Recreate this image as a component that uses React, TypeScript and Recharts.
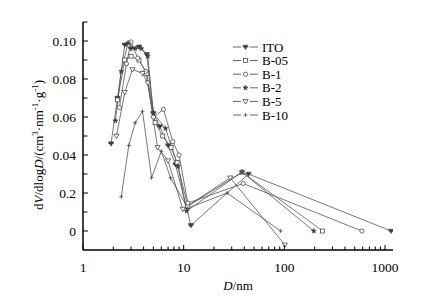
import React from 'react';
import { LineChart, Line, XAxis, YAxis, Customized } from 'recharts';

// ---- data (D in nm, dV/dlogD) ----
const itoD = [1.9, 2.2, 2.6, 3.0, 3.6, 4.3, 5.0, 5.8, 7.0, 8.3, 11.8, 44, 1150];
const itoV = [0.046, 0.070, 0.098, 0.096, 0.097, 0.093, 0.062, 0.055, 0.045, 0.035, 0.003, 0.030, 0];

const b05D = [2.2, 2.6, 3.0, 3.6, 4.3, 5.2, 6.2, 7.5, 8.6, 11, 38, 240];
const b05V = [0.069, 0.090, 0.092, 0.090, 0.083, 0.057, 0.050, 0.044, 0.036, 0.013, 0.031, 0];

const b1D = [2.3, 2.7, 3.0, 3.5, 4.2, 5.0, 6.3, 7.8, 9.0, 11, 39, 590];
const b1V = [0.065, 0.088, 0.0995, 0.091, 0.084, 0.060, 0.064, 0.047, 0.040, 0.0147, 0.025, 0];

const b2D = [2.1, 2.4, 2.8, 3.3, 3.8, 4.4, 5.0, 6.6, 8.8, 10.7, 38, 196];
const b2V = [0.058, 0.084, 0.099, 0.096, 0.096, 0.092, 0.062, 0.054, 0.034, 0.0105, 0.031, 0];

const b5D = [2.15, 2.6, 3.1, 3.9, 4.4, 5.5, 7.0, 9.8, 29, 101];
const b5V = [0.050, 0.073, 0.085, 0.083, 0.078, 0.044, 0.037, 0.0115, 0.028, -0.0073];

const b10D = [2.4, 2.85, 3.3, 3.9, 4.8, 6.0, 7.4, 11, 27, 92];
const b10V = [0.018, 0.045, 0.057, 0.063, 0.028, 0.042, 0.028, 0.012, 0.020, 0];

const seriesNames = ['ITO', 'B-05', 'B-1', 'B-2', 'B-5', 'B-10'];
const seriesMarkers = ['ito', 'square', 'circle', 'star', 'tri', 'plus'];

const xTickValues = [1, 2, 3, 4, 5, 6, 7, 8, 9, 10, 20, 30, 40, 50, 60, 70, 80, 90, 100, 200, 300, 400, 500, 600, 700, 800, 900, 1000];
const xTickLabels = ['1', '', '', '', '', '', '', '', '', '10', '', '', '', '', '', '', '', '', '100', '', '', '', '', '', '', '', '', '1000'];

const yTickValues = [0, 0.01, 0.02, 0.03, 0.04, 0.05, 0.06, 0.07, 0.08, 0.09, 0.1, 0.11];
const yTickLabels = ['0', '', '0.2', '', '0.04', '', '0.06', '', '0.08', '', '0.10', ''];

const FONT = '"Liberation Serif", "Times New Roman", serif';

const toRows = (d: number[], v: number[]) => d.map((x, i) => ({ x, y: v[i] }));
const seriesData = [
  toRows(itoD, itoV),
  toRows(b05D, b05V),
  toRows(b1D, b1V),
  toRows(b2D, b2V),
  toRows(b5D, b5V),
  toRows(b10D, b10V),
];

const starPath = (cx: number, cy: number, ro: number, ri: number) => {
  let p = '';
  for (let i = 0; i < 10; i++) {
    const r = i % 2 === 0 ? ro : ri;
    const a = -Math.PI / 2 + (i * Math.PI) / 5;
    p += (i === 0 ? 'M' : 'L') + (cx + r * Math.cos(a)).toFixed(2) + ',' + (cy + r * Math.sin(a)).toFixed(2);
  }
  return p + 'Z';
};

const Marker = ({ type, cx, cy }: { type: string; cx: number; cy: number }) => {
  const st = '#333';
  if (cx == null || cy == null) return null;
  switch (type) {
    case 'ito':
      return (
        <g>
          <path d={`M${cx - 2.6},${cy - 1.8}L${cx + 2.6},${cy - 1.8}L${cx},${cy + 2.6}Z`} fill="#444" stroke={st} strokeWidth={0.5} />
          <line x1={cx - 3} x2={cx + 3} y1={cy - 0.2} y2={cy - 0.2} stroke={st} strokeWidth={0.7} />
        </g>
      );
    case 'square':
      return <rect x={cx - 2} y={cy - 2} width={4} height={4} fill="#fff" stroke={st} strokeWidth={0.7} />;
    case 'circle':
      return <circle cx={cx} cy={cy} r={2.1} fill="#fff" stroke={st} strokeWidth={0.7} />;
    case 'star':
      return <path d={starPath(cx, cy, 2.8, 1.2)} fill="#444" stroke={st} strokeWidth={0.4} />;
    case 'tri':
      return <path d={`M${cx - 2.6},${cy - 1.8}L${cx + 2.6},${cy - 1.8}L${cx},${cy + 2.6}Z`} fill="#fff" stroke={st} strokeWidth={0.7} />;
    case 'plus':
      return (
        <g>
          <line x1={cx - 2} x2={cx + 2} y1={cy} y2={cy} stroke={st} strokeWidth={0.7} />
          <line x1={cx} x2={cx} y1={cy - 2} y2={cy + 2} stroke={st} strokeWidth={0.7} />
        </g>
      );
    default:
      return null;
  }
};

const findIdx = (arr: number[], v: number) => arr.findIndex((a) => Math.abs(a - v) < 1e-9);

const XTick = (props: any) => {
  const { x, y, payload } = props;
  const idx = findIdx(xTickValues, payload.value);
  const label = idx >= 0 ? xTickLabels[idx] : '';
  const major = label !== '';
  return (
    <g>
      <line x1={x} x2={x} y1={y} y2={y - (major ? 5 : 3.5)} stroke="#000" strokeWidth={1} />
      {major && (
        <text x={x} y={y + 22} textAnchor="middle" fontSize={13.5} fontFamily={FONT} fill="#000">
          {label}
        </text>
      )}
    </g>
  );
};

const YTick = (props: any) => {
  const { x, y, payload } = props;
  const idx = findIdx(yTickValues, payload.value);
  const label = idx >= 0 ? yTickLabels[idx] : '';
  const major = label !== '';
  return (
    <g>
      <line x1={x} x2={x + (major ? 5 : 4.5)} y1={y} y2={y} stroke="#000" strokeWidth={1} />
      {major && (
        <text x={x - 7} y={y} dy="0.35em" textAnchor="end" fontSize={13.5} fontFamily={FONT} fill="#000">
          {label}
        </text>
      )}
    </g>
  );
};

const Decor = () => {
  const legendX = 225;
  const legendY0 = 39;
  const step = 13.6;
  return (
    <g fontFamily={FONT} fill="#000">
      <text transform="translate(35,137) rotate(-90)" textAnchor="middle" fontSize={13}>
        d<tspan fontStyle="italic">V</tspan>/dlog<tspan fontStyle="italic">D</tspan>/(cm
        <tspan dy={-5} fontSize={9}>3</tspan>
        <tspan dy={5}>·nm</tspan>
        <tspan dy={-5} fontSize={9}>-1</tspan>
        <tspan dy={5}>·g</tspan>
        <tspan dy={-5} fontSize={9}>-1</tspan>
        <tspan dy={5}>)</tspan>
      </text>
      <text x={230} y={282} textAnchor="middle" fontSize={13}>
        <tspan fontStyle="italic">D</tspan>/nm
      </text>
      {seriesNames.map((name, i) => {
        const cy = legendY0 + i * step;
        return (
          <g key={name}>
            <line x1={legendX} x2={legendX + 8} y1={cy} y2={cy} stroke="#555" strokeWidth={0.9} />
            <line x1={legendX + 17} x2={legendX + 25} y1={cy} y2={cy} stroke="#555" strokeWidth={0.9} />
            <Marker type={seriesMarkers[i]} cx={legendX + 12.5} cy={cy} />
            <text x={legendX + 29} y={cy} dy="0.35em" fontSize={13}>
              {name}
            </text>
          </g>
        );
      })}
    </g>
  );
};

export default function App() {
  return (
    <LineChart width={430} height={285} margin={{ top: 14, right: 45, bottom: 13, left: 0 }}>
      <XAxis
        type="number"
        dataKey="x"
        scale="log"
        domain={[1, 1200]}
        allowDataOverflow
        ticks={xTickValues}
        interval={0}
        tick={<XTick />}
        tickSize={0}
        tickMargin={0}
        tickLine={false}
        height={30}
        axisLine={{ stroke: '#000', strokeWidth: 1.5 }}
      />
      <YAxis
        type="number"
        dataKey="y"
        domain={[-0.01, 0.11]}
        allowDataOverflow
        ticks={yTickValues}
        interval={0}
        tick={<YTick />}
        tickSize={0}
        tickMargin={0}
        tickLine={false}
        width={75}
        axisLine={{ stroke: '#000', strokeWidth: 1.5 }}
      />
      {seriesData.map((rows, i) => (
        <Line
          key={seriesNames[i]}
          data={rows}
          dataKey="y"
          name={seriesNames[i]}
          type="linear"
          stroke="#555"
          strokeWidth={0.8}
          isAnimationActive={false}
          dot={(p: any) => <Marker key={`${i}-${p.index}`} type={seriesMarkers[i]} cx={p.cx} cy={p.cy} />}
          activeDot={false}
        />
      ))}
      <Customized component={Decor} />
    </LineChart>
  );
}
